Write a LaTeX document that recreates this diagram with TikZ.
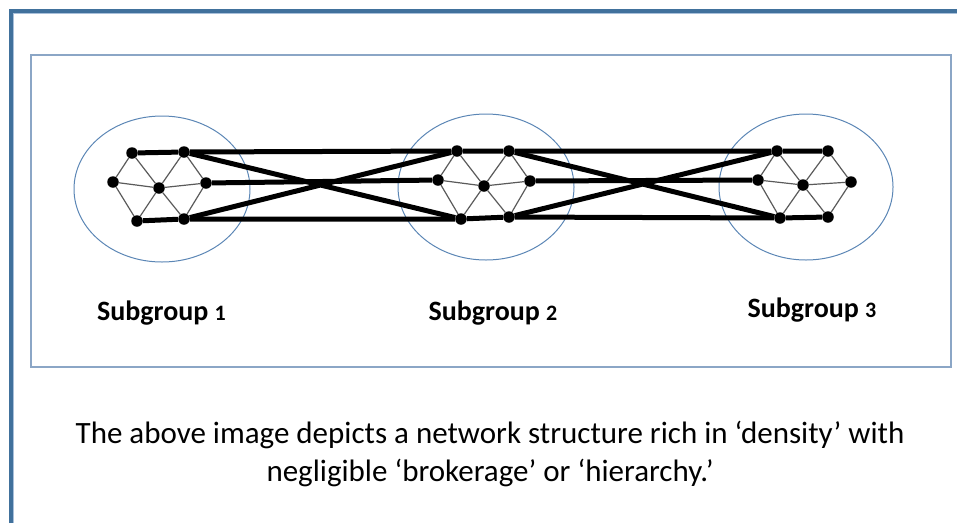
\documentclass[tikz,border=0pt]{standalone}
\usepackage{fontspec}
\newfontfamily\calib{Carlito}
\definecolor{framebar}{HTML}{41719C}
\definecolor{framelight}{HTML}{A9C0DA}
\definecolor{innerframe}{HTML}{8BA6C6}
\definecolor{ringblue}{HTML}{5B86B5}
\definecolor{thingrey}{HTML}{5A5A5A}
\tikzset{
  dotnode/.style={circle,fill=black,inner sep=0pt,minimum size=11.5pt},
  thinedge/.style={draw=thingrey,line width=1.2pt},
  thickedge/.style={draw=black,line width=5pt},
  ring/.style={draw=ringblue,line width=1pt},
  grouplabel/.style={anchor=base,inner sep=0pt,font=\calib\bfseries\fontsize{28}{30}\selectfont},
  caption/.style={align=center,inner sep=0pt,font=\calib\fontsize{31}{38}\selectfont}
}
\newcommand{\gnum}[1]{{\fontsize{22}{24}\selectfont #1}}
\begin{document}
\begin{tikzpicture}[x=1pt,y=-1pt]
\useasboundingbox (0,0) rectangle (957,523);
% outer frame
\draw[framebar,line width=4pt] (11,523) -- (11,11) -- (957,11);
\draw[framelight,line width=0.8pt] (13.6,523) -- (13.6,13.6) -- (957,13.6);
% inner frame
\draw[innerframe,line width=1.5pt] (31,55) rectangle (951,367);
% rings
\draw[ring] (162,189) ellipse [x radius=88,y radius=73];
\draw[ring] (486,187) ellipse [x radius=88,y radius=73];
\draw[ring] (806,187) ellipse [x radius=87,y radius=73];
% nodes
\foreach \g/\tlx/\tly/\trx/\try/\lx/\ly/\cx/\cy/\rx/\ry/\blx/\bly/\brx/\bry in
  {1/132/153/184/152/113/182/159/188/206/183/137/221/184/219,
   2/457/151/509/151/438/180/484/186/530/181/461/219/509/217,
   3/777/151/828/151/758/180/803/185/851/182/780/218/828/217}{
  \node[dotnode] (g\g tl) at (\tlx,\tly) {};
  \node[dotnode] (g\g tr) at (\trx,\try) {};
  \node[dotnode] (g\g l) at (\lx,\ly) {};
  \node[dotnode] (g\g c) at (\cx,\cy) {};
  \node[dotnode] (g\g r) at (\rx,\ry) {};
  \node[dotnode] (g\g bl) at (\blx,\bly) {};
  \node[dotnode] (g\g br) at (\brx,\bry) {};
  % thin triangulated hexagon
  \path[thinedge] (g\g tl) -- (g\g l) (g\g l) -- (g\g bl)
    (g\g tr) -- (g\g r) (g\g r) -- (g\g br)
    (g\g c) -- (g\g tl) (g\g c) -- (g\g tr) (g\g c) -- (g\g l)
    (g\g c) -- (g\g r) (g\g c) -- (g\g bl) (g\g c) -- (g\g br);
}
% thick ties
\path[thickedge] (g1tl) -- (g1tr) (g1tr) -- (g2tl) (g2tl) -- (g2tr) (g2tr) -- (g3tl) (g3tl) -- (g3tr);
\path[thickedge] (g1bl) -- (g1br) (g1br) -- (g2bl) (g2bl) -- (g2br) (g2br) -- (g3bl) (g3bl) -- (g3br);
\path[thickedge] (g1r) -- (g2l) (g2r) -- (g3l);
\path[thickedge] (g1tr) -- (g2bl) (g1br) -- (g2tl) (g2tr) -- (g3bl) (g2br) -- (g3tl);
% labels
\node[grouplabel] (lab1) at (161.5,320) {Subgroup \gnum{1}};
\node[grouplabel] (lab2) at (493,320) {Subgroup \gnum{2}};
\node[grouplabel] (lab3) at (812,317) {Subgroup \gnum{3}};
% caption
\node[caption] (cap) at (490,454) {The above image depicts a network structure rich in ‘density’ with\\negligible ‘brokerage’ or ‘hierarchy.’};
\end{tikzpicture}
\end{document}
